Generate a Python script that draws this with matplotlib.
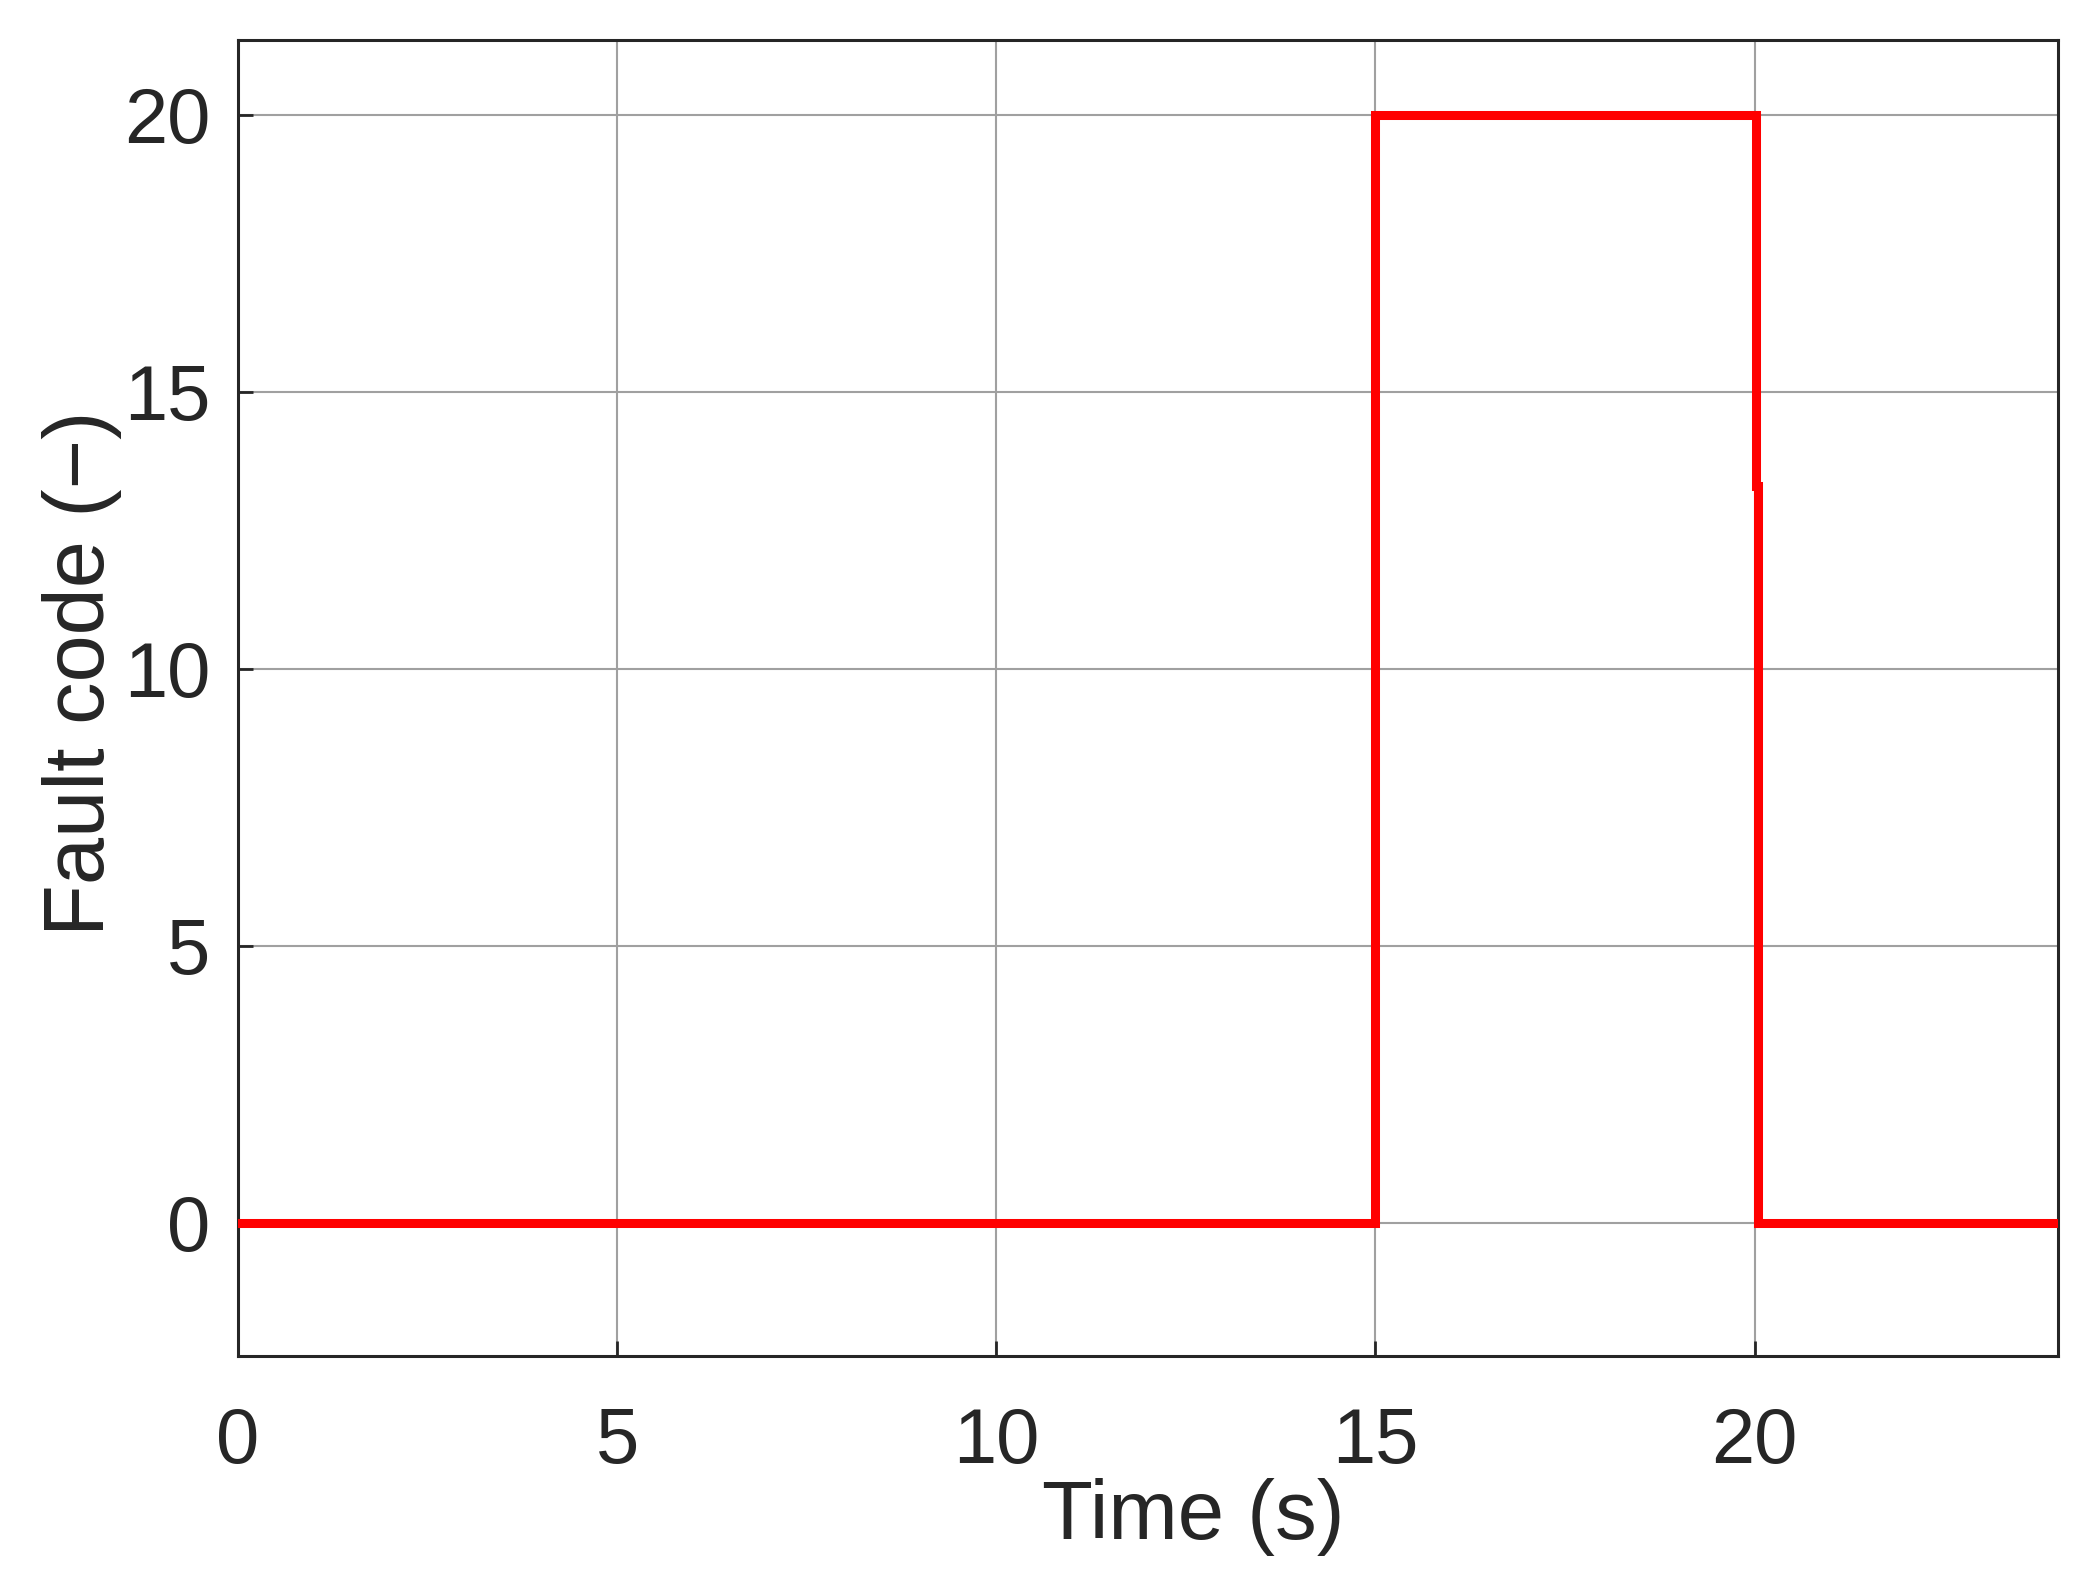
import matplotlib
matplotlib.use("Agg")
import matplotlib.pyplot as plt

# Data
time_s = [0.0, 15.0, 15.0, 20.02, 20.02, 20.05, 20.05, 24.0]
fault_code = [0, 0, 20, 20, 13.3, 13.3, 0, 0]

x_ticks = [0, 5, 10, 15, 20]
y_ticks = [0, 5, 10, 15, 20]
x_limits = (0, 24)
y_limits = (-2.4, 21.35)

plt.rcParams['font.family'] = ['Liberation Sans', 'DejaVu Sans']

fig = plt.figure(figsize=(20.95, 15.93), dpi=100)
ax = fig.add_axes([0.1136, 0.1488, 0.8687, 0.8261])

ax.plot(time_s, fault_code, color='#ff0000', linewidth=6.5, solid_joinstyle='miter', zorder=3)

ax.set_xlim(*x_limits)
ax.set_ylim(*y_limits)
ax.set_xticks(x_ticks)
ax.set_yticks(y_ticks)
ax.grid(True, color='#a0a0a0', linewidth=1.5)
ax.set_axisbelow(True)

ax.tick_params(direction='in', length=11, width=2, color='#262626',
               labelsize=56, labelcolor='#262626')
ax.tick_params(axis='x', pad=36)
ax.tick_params(axis='y', pad=20)
for s in ax.spines.values():
    s.set_linewidth(2.2)
    s.set_color('#262626')

ax.set_xlabel('Time (s)', fontsize=60, color='#262626')
ax.set_ylabel('Fault code (\u2212)', fontsize=61, color='#262626')
ax.xaxis.set_label_coords(0.525, -0.0926)
ax.yaxis.set_label_coords(-0.0635, 0.519)

fig.savefig('out.png', dpi=100, facecolor='white')
